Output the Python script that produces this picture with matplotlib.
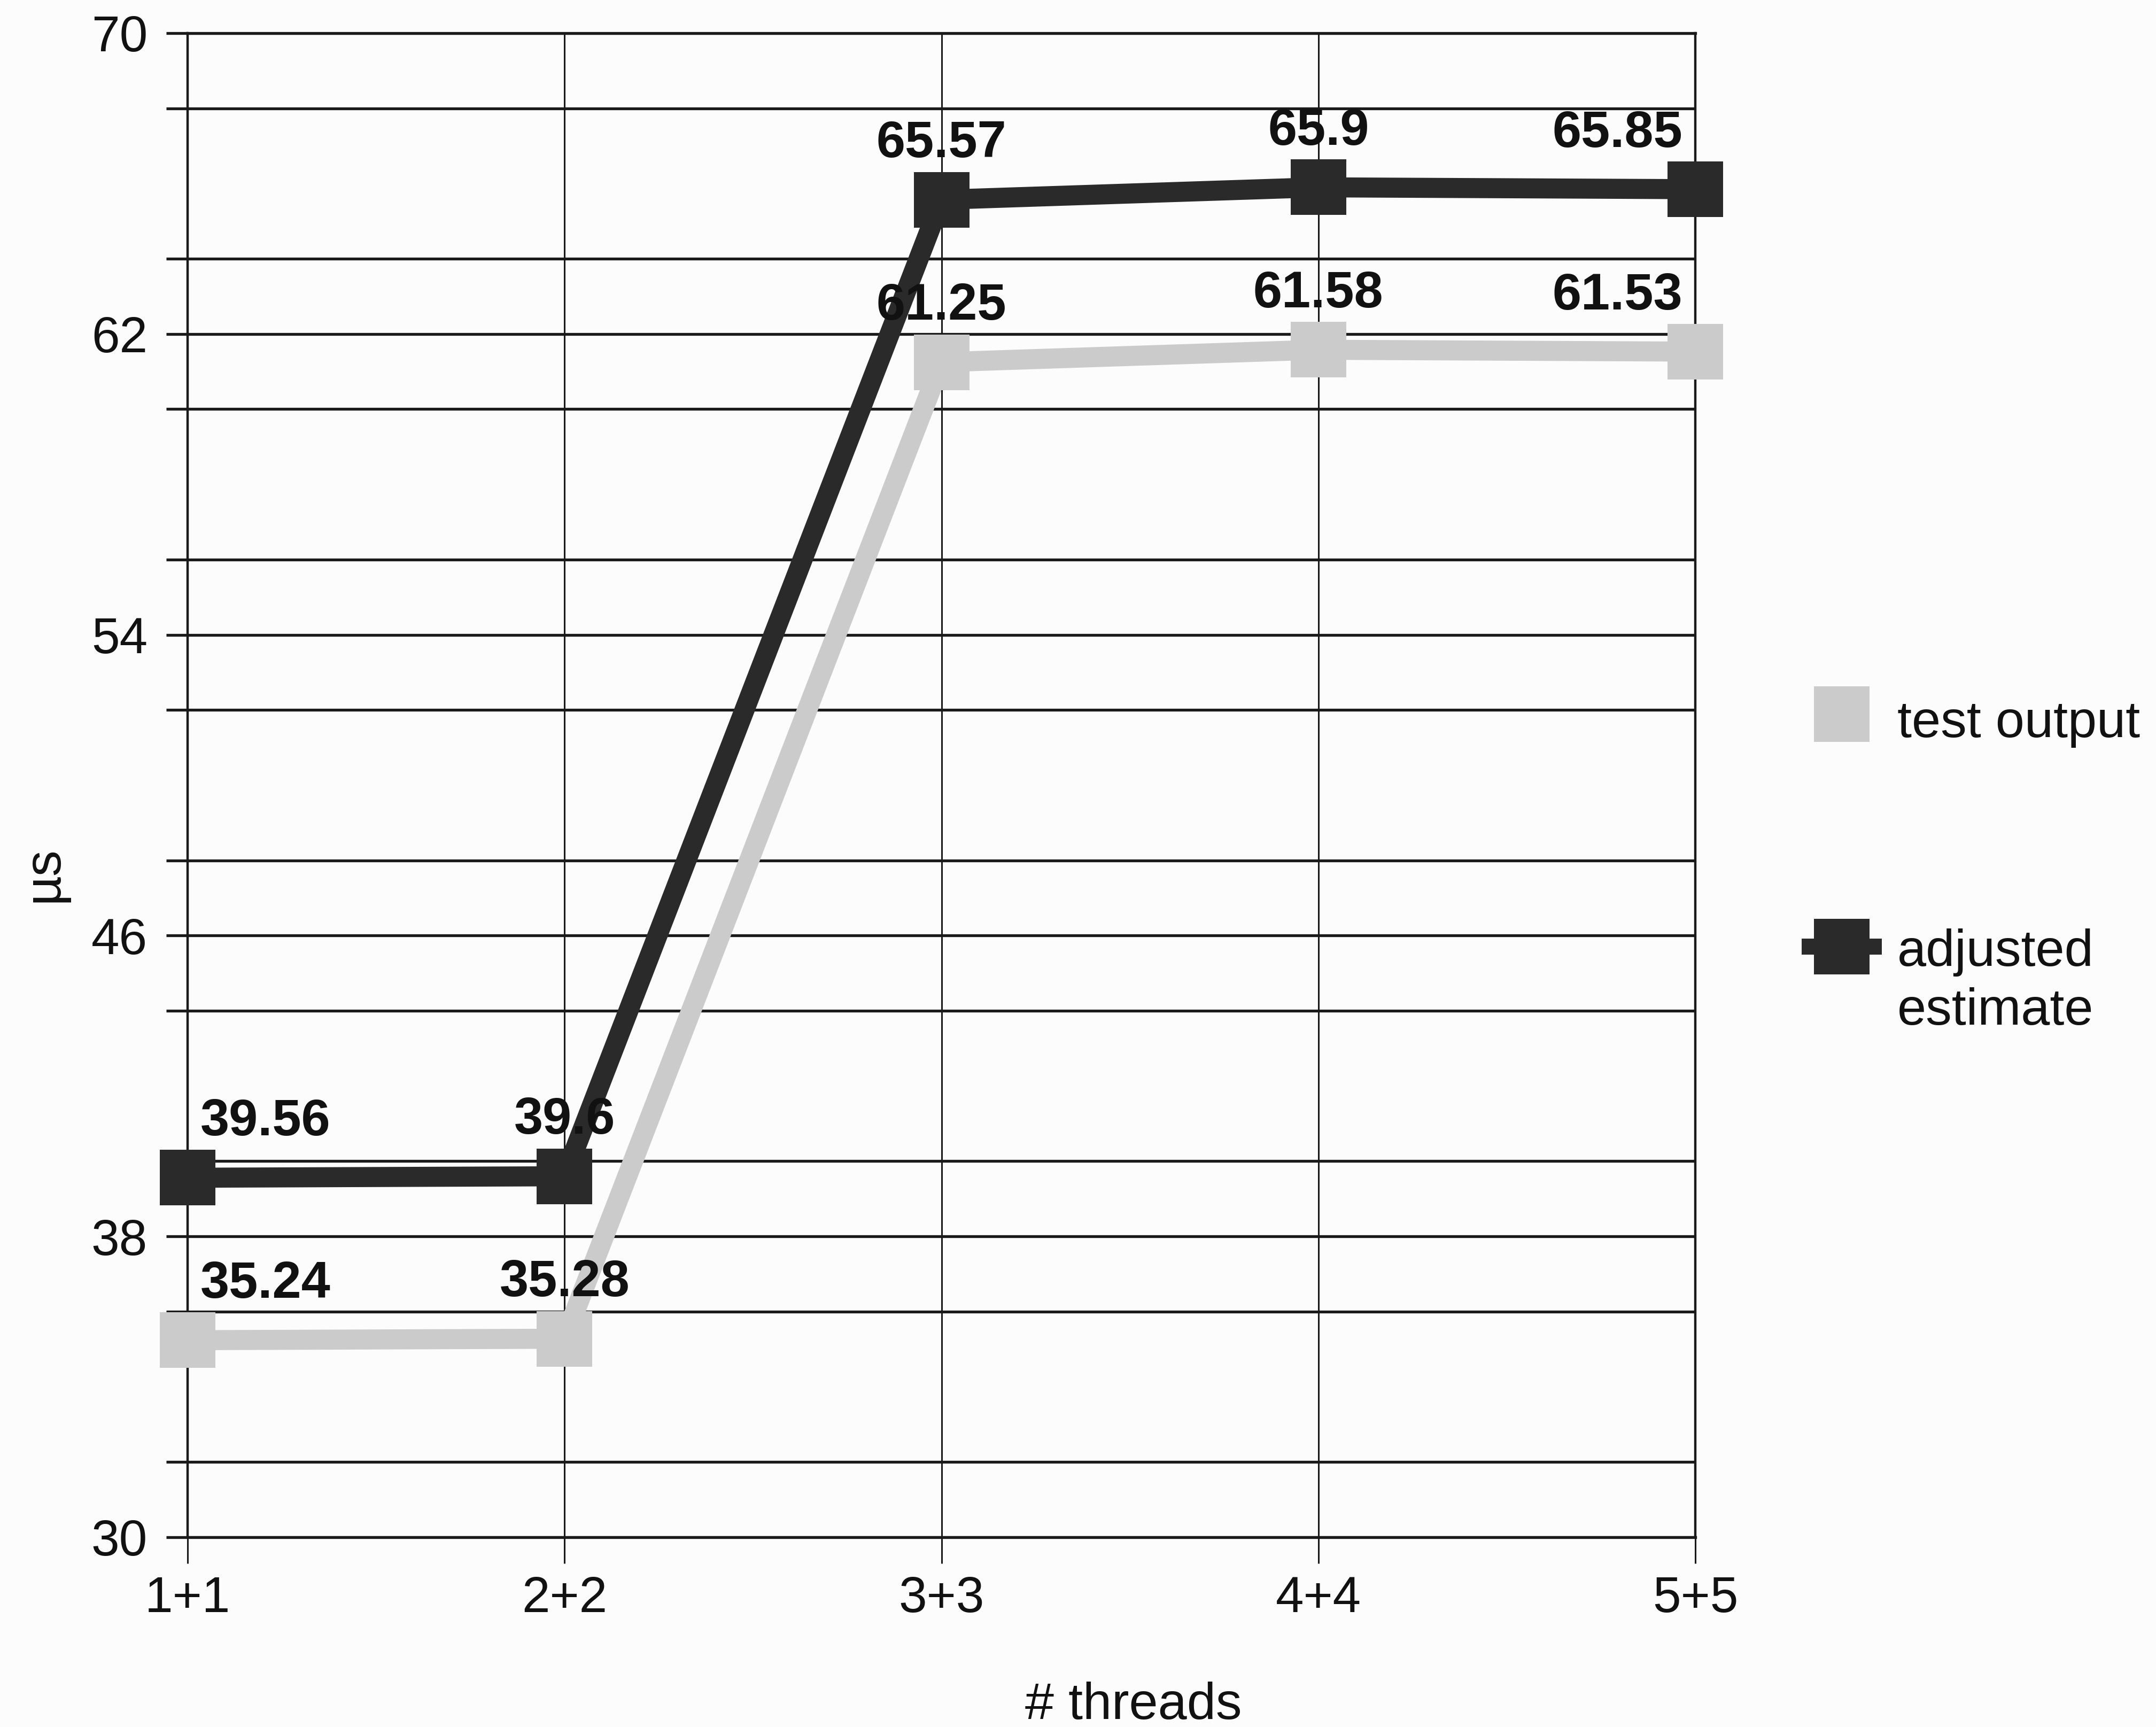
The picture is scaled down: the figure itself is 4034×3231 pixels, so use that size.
import matplotlib
matplotlib.use("Agg")
import matplotlib.pyplot as plt
from matplotlib.lines import Line2D
from matplotlib.ticker import MultipleLocator

# ---- data ----
categories = ["1+1", "2+2", "3+3", "4+4", "5+5"]
test_output = [35.24, 35.28, 61.25, 61.58, 61.53]
adjusted_estimate = [39.56, 39.6, 65.57, 65.9, 65.85]
series_names = ["test output", "adjusted\nestimate"]
y_ticks = [30, 38, 46, 54, 62, 70]
x_label = "# threads"
y_label = "µs"

plt.rcParams['font.family'] = ['Liberation Sans', 'DejaVu Sans']

W, H, DPI = 4034, 3231, 100
fig = plt.figure(figsize=(W / DPI, H / DPI), dpi=DPI, facecolor='#fcfcfc')

# plot area in pixel terms
L, R, T, B = 351, 3172, 62, 2876
ax = fig.add_axes([L / W, 1 - B / H, (R - L) / W, (B - T) / H])
ax.set_facecolor('none')

LIGHT = '#cbcbcb'
DARK = '#2a2a2a'
GRID = '#1a1a1a'
LW = 27      # series line width (pt)
MS = 75      # square marker size (pt)

x = list(range(len(categories)))
series = [(test_output, LIGHT), (adjusted_estimate, DARK)]

for vals, col in series:
    ax.plot(x, vals, color=col, lw=LW, marker='s', ms=MS, mfc=col, mec=col,
            mew=0, clip_on=False, zorder=3)

# value labels above every point, kept inside the plot area at the ends
for vals, col in series:
    for i, v in enumerate(vals):
        if i == 0:
            ha, dx = 'left', 17
        elif i == len(x) - 1:
            ha, dx = 'right', -17
        else:
            ha, dx = 'center', 0
        ax.annotate(f"{v:g}", (x[i], v), xytext=(dx, 57),
                    textcoords='offset points', ha=ha, va='baseline',
                    fontsize=70, fontweight='bold', color='#111111', zorder=4)

# axes, ticks and grid
ax.set_xlim(0, len(categories) - 1)
ax.set_ylim(y_ticks[0], y_ticks[-1])
ax.set_xticks(x)
ax.set_xticklabels(categories)
ax.set_yticks(y_ticks)
ax.yaxis.set_minor_locator(MultipleLocator(4))

ax.grid(True, axis='y', which='both', color=GRID, lw=3.8, zorder=1)
ax.grid(True, axis='x', which='major', color=GRID, lw=2.2, zorder=1)
ax.set_axisbelow(True)

for side in ('top', 'bottom'):
    ax.spines[side].set_color(GRID)
    ax.spines[side].set_linewidth(3.8)
for side in ('left', 'right'):
    ax.spines[side].set_color(GRID)
    ax.spines[side].set_linewidth(3.2)

ax.tick_params(axis='y', which='both', length=29, width=3.8, color=GRID,
               direction='out', pad=25, labelsize=68, labelcolor='#111111')
ax.tick_params(axis='x', which='major', length=35, width=2.2, color=GRID,
               direction='out', pad=16, labelsize=68, labelcolor='#111111')

# axis titles
fig.text(82 / W, 1 - 1636 / H, y_label, rotation=90, ha='center', va='center',
         fontsize=70, color='#111111')
fig.text(2121 / W, 1 - 3216 / H, x_label, ha='center', va='baseline',
         fontsize=70, color='#111111')

# legend keys on the right
key_rows = [1336, 1771]
key_stub = [0, 60]
text_baselines = [1379, 1917]
for (vals, col), ky, stub, tb, name in zip(series, key_rows, key_stub,
                                          text_baselines, series_names):
    kx = 3446
    if stub:
        fig.add_artist(Line2D([(kx - stub) / W, (kx + stub) / W],
                              [1 - ky / H, 1 - ky / H],
                              transform=fig.transFigure, color=col, lw=LW * 0.8))
    fig.add_artist(Line2D([kx / W], [1 - ky / H], transform=fig.transFigure,
                          marker='s', ms=MS, mfc=col, mec=col, mew=0, lw=0))
    fig.text(3550 / W, 1 - tb / H, name, ha='left', va='baseline',
             fontsize=70, color='#111111', linespacing=1.28)

fig.savefig("out.png", dpi=DPI, facecolor=fig.get_facecolor())
